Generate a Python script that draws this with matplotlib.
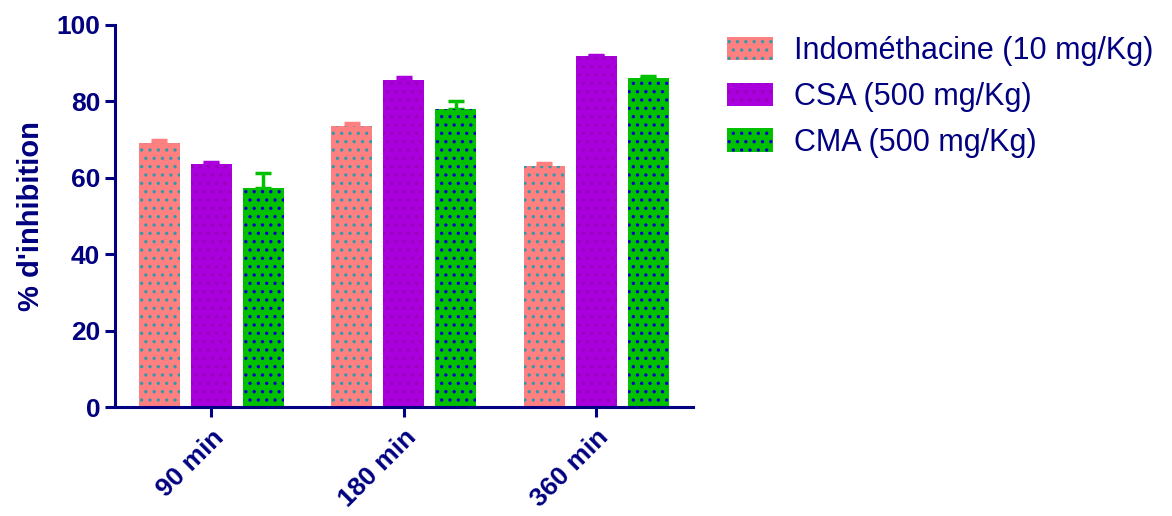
import numpy as np
import matplotlib
matplotlib.use("Agg")
import matplotlib.pyplot as plt

plt.rcParams['font.family'] = ['Liberation Sans', 'DejaVu Sans']
plt.rcParams['hatch.linewidth'] = 1.2

# donnees
temps = ["90 min", "180 min", "360 min"]
series = ["Indométhacine (10 mg/Kg)", "CSA (500 mg/Kg)", "CMA (500 mg/Kg)"]
indo = [69.0, 73.5, 63.0]
indo_err = [0.8, 0.8, 0.8]
csa = [63.5, 85.5, 91.8]
csa_err = [0.7, 0.8, 0.4]
cma = [57.3, 78.0, 86.1]
cma_err = [4.0, 2.1, 0.4]

couleurs = ["#ff8080", "#aa00dd", "#00c000"]
couleurs_points = ["#3399aa", "#9900bb", "#0000cc"]
navy = "#000080"

fig = plt.figure(figsize=(11.72, 5.16), dpi=100)
ax = fig.add_axes([0.098, 0.211, 0.493, 0.741])

x = np.arange(len(temps))
largeur = 0.213
pas = 0.27
valeurs = [indo, csa, cma]
erreurs = [indo_err, csa_err, cma_err]
for i in range(3):
    pos = x + (i - 1) * pas
    ax.bar(pos, valeurs[i], largeur, color=couleurs[i], edgecolor=couleurs_points[i],
           linewidth=0, hatch='..', label=series[i], zorder=2)
    ax.errorbar(pos, valeurs[i], yerr=[np.zeros(3), erreurs[i]], fmt='none',
                ecolor=couleurs[i], elinewidth=2.5, capsize=6, capthick=2.5, zorder=1)

ax.set_xlim(-0.5, 2.5)
ax.set_ylim(0, 100)
ax.set_yticks([0, 20, 40, 60, 80, 100])
ax.set_xticks(x)
ax.set_xticklabels(temps, rotation=45, ha='right', rotation_mode='anchor')
ax.set_ylabel("% d'inhibition", fontsize=21, fontweight='bold', color=navy, labelpad=8)

for s in ['top', 'right']:
    ax.spines[s].set_visible(False)
for s in ['left', 'bottom']:
    ax.spines[s].set_color(navy)
    ax.spines[s].set_linewidth(2.2)
ax.tick_params(axis='both', colors=navy, width=2.2, length=7, labelsize=19)
ax.tick_params(axis='x', pad=6)
for lab in ax.get_xticklabels() + ax.get_yticklabels():
    lab.set_fontweight('bold')
    lab.set_color(navy)

leg = ax.legend(loc='upper left', bbox_to_anchor=(727 / 1172, 1 - 36 / 516),
                bbox_transform=fig.transFigure, frameon=False, borderpad=0,
                borderaxespad=0, fontsize=22, labelcolor=navy, handlelength=1.5,
                handleheight=0.8, handletextpad=0.7, labelspacing=0.52)

fig.savefig("out.png", dpi=100)
